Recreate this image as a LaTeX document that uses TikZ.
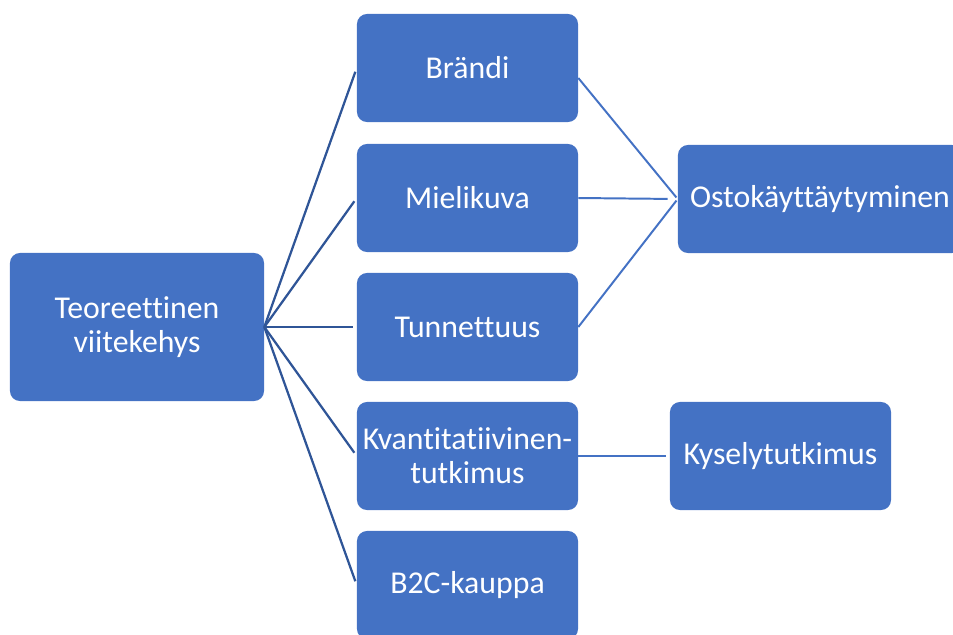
\documentclass[tikz,border=0pt]{standalone}
\usepackage{fontspec}
\setmainfont{Carlito}[Ligatures=NoCommon]
\usetikzlibrary{calc}
\definecolor{boxblue}{HTML}{4472C4}
\definecolor{linedark}{HTML}{2F5597}
\tikzset{
	box/.style={fill=boxblue, rounded corners=0.25cm, text=white, align=center,
		minimum width=5.525cm, minimum height=2.7cm, inner sep=0pt,
		font=\fontsize{22.6}{24.4}\selectfont},
	treeline/.style={line width=1.6pt, color=linedark, shorten >=0.1cm},
	joinline/.style={line width=1.4pt, color=boxblue, shorten >=0.05cm}
}

\begin{document}
\begin{tikzpicture}[x=0.025cm, y=-0.025cm]
		%%%%% START %%%%%
		\useasboundingbox (0, 0) rectangle (953, 634);
		\clip (0, 0) rectangle (953, 634);
		
		\node[box, minimum width=6.35cm, minimum height=3.7cm] (teor) at (137, 327) {Teoreettinen\\viitekehys};
		
		\node[box] (brandi) at (467.5, 68) {Brändi};
		\node[box] (kuva) at (467.5, 198) {Mielikuva};
		\node[box] (tunn) at (467.5, 327) {Tunnettuus};
		\node[box] (kvant) at (467.5, 456) {Kvantitatiivinen-\\tutkimus};
		\node[box] (b2c) at (467.5, 585) {B2C-kauppa};
		
		\node[box, minimum width=7.1cm] (osto) at (820, 199) {Ostokäyttäytyminen};
		\node[box] (kysely) at (780.5, 456) {Kyselytutkimus};
		
		\draw[treeline] (teor.east) -- (brandi.west);
		\draw[treeline] (teor.east) -- (kuva.west);
		\draw[treeline] (teor.east) -- (tunn.west);
		\draw[treeline] (teor.east) -- (kvant.west);
		\draw[treeline] (teor.east) -- (b2c.west);
		
		\draw[joinline] ($(brandi.east)+(0, 10)$) -- (osto.west);
		\draw[joinline, shorten >=0.25cm] (kuva.east) -- (osto.west);
		\draw[joinline] (tunn.east) -- (osto.west);
		
		\draw[joinline, shorten >=0.08cm] (kvant.east) -- (kysely.west);
		
		%%%%% END %%%%%
\end{tikzpicture}
\end{document}
